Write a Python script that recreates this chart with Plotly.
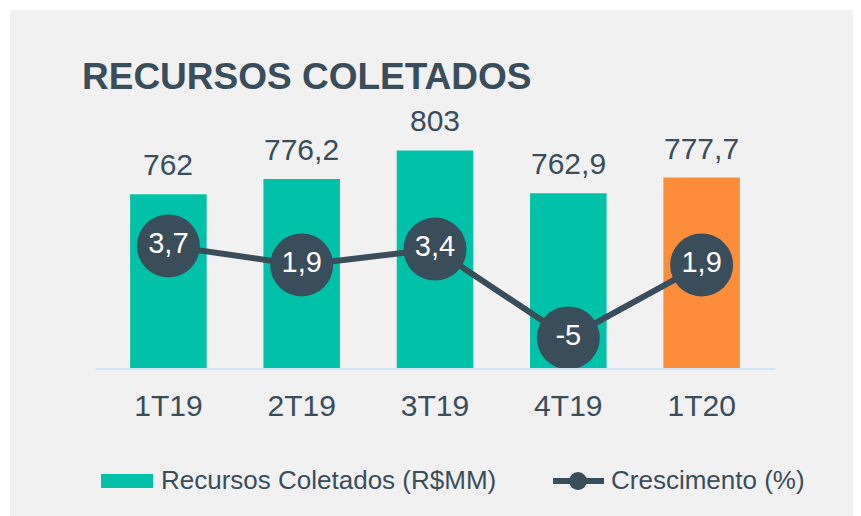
import plotly.graph_objects as go

# ---- data ----
categories = ["1T19", "2T19", "3T19", "4T19", "1T20"]
recursos = [762, 776.2, 803, 762.9, 777.7]
crescimento = [3.7, 1.9, 3.4, -5, 1.9]
bar_series_name = "Recursos Coletados (R$MM)"
line_series_name = "Crescimento (%)"
title_text = "RECURSOS COLETADOS"


def br(v):
    s = ("%g" % v)
    return s.replace(".", ",")


# ---- styling ----
TEAL = "#00c2a8"
ORANGE = "#fe8d3b"
DARK = "#3a4d5b"
BG = "#f1f1f1"
FONT = "Arial, Liberation Sans, sans-serif"

OFF = 8                 # default page body margin
W, H = 861 - OFF, 516 - OFF
# target window coordinates (px)
L_t, R_t = 95, 775
T_t, B_t = 100, 368
L, R = L_t - OFF, R_t - OFF
T, B = T_t - OFF, B_t - OFF


def px(x):
    return (x - OFF - L) / (R - L)


def py(y):
    return (B - (y - OFF)) / (B - T)


bar_colors = [TEAL] * (len(categories) - 1) + [ORANGE]

fig = go.Figure()
fig.add_trace(go.Bar(
    x=categories, y=recursos, name=bar_series_name,
    marker=dict(color=bar_colors, line=dict(width=0)),
    showlegend=False, yaxis="y",
))
fig.add_trace(go.Scatter(
    x=categories, y=crescimento, name=line_series_name, yaxis="y2",
    mode="lines+markers+text",
    line=dict(color=DARK, width=6),
    marker=dict(color=DARK, size=63),
    text=[br(v) for v in crescimento], textposition="middle center",
    textfont=dict(color="white", size=29, family=FONT),
    showlegend=False, cliponaxis=False,
))

annotations = []
for c, v in zip(categories, recursos):
    annotations.append(dict(
        x=c, y=v, xref="x", yref="y", text=br(v), showarrow=False,
        yanchor="bottom", yshift=11,
        font=dict(size=30, color=DARK, family=FONT),
    ))

# title
annotations.append(dict(
    x=px(80), y=py(99), xref="paper", yref="paper", text="<b>%s</b>" % title_text,
    showarrow=False, xanchor="left", yanchor="bottom",
    font=dict(size=37, color=DARK, family=FONT),
))
# legend texts
annotations.append(dict(
    x=px(159), y=py(497), xref="paper", yref="paper", text=bar_series_name,
    showarrow=False, xanchor="left", yanchor="bottom",
    font=dict(size=26, color=DARK, family=FONT),
))
annotations.append(dict(
    x=px(609), y=py(497), xref="paper", yref="paper", text=line_series_name,
    showarrow=False, xanchor="left", yanchor="bottom",
    font=dict(size=26, color=DARK, family=FONT),
))

shapes = [
    # background panel
    dict(type="rect", xref="paper", yref="paper", layer="below",
         x0=px(10), x1=px(861 + 5), y0=py(516 + 5), y1=py(10),
         fillcolor=BG, line=dict(width=0)),
    # legend: bar swatch
    dict(type="rect", xref="paper", yref="paper",
         x0=px(101), x1=px(153), y0=py(488), y1=py(474),
         fillcolor=TEAL, line=dict(width=0)),
    # legend: line
    dict(type="line", xref="paper", yref="paper",
         x0=px(553), x1=px(604), y0=py(481), y1=py(481),
         line=dict(color=DARK, width=6)),
    dict(type="circle", xref="paper", yref="paper",
         x0=px(569), x1=px(587), y0=py(490), y1=py(472),
         fillcolor=DARK, line=dict(width=0)),
]

fig.update_layout(
    width=W, height=H,
    margin=dict(l=L, r=W - R, t=T, b=H - B, pad=0),
    paper_bgcolor="white", plot_bgcolor="rgba(0,0,0,0)",
    bargap=0.426,
    showlegend=False,
    font=dict(family=FONT, color=DARK),
    xaxis=dict(showgrid=False, zeroline=False, showline=True,
               linecolor="#cde5f7", linewidth=2, ticks="",
               tickfont=dict(size=30, color=DARK, family=FONT),
               ticklabelstandoff=10, fixedrange=True),
    yaxis=dict(range=[600, 850], visible=False, showgrid=False, fixedrange=True),
    yaxis2=dict(range=[-7.85, 17.51], overlaying="y", side="right",
                visible=False, showgrid=False, fixedrange=True),
    annotations=annotations,
    shapes=shapes,
)

fig.write_html("out.html")
